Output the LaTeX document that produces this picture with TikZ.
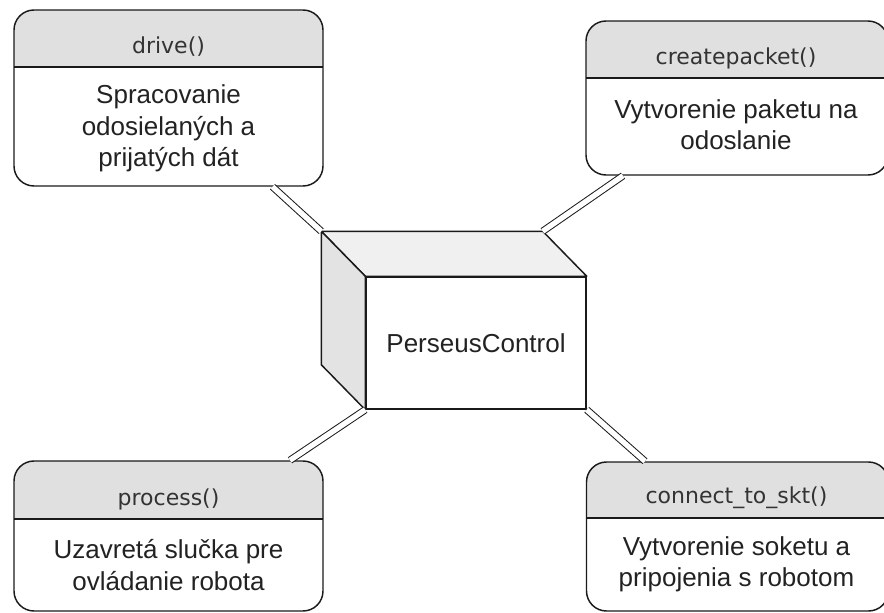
\documentclass[tikz,border=0pt]{standalone}
\usepackage{fontspec}
\setmainfont{Liberation Sans}
\newfontfamily\headfont{DejaVu Sans}
\definecolor{linecol}{HTML}{1A1A1A}
\definecolor{headfill}{HTML}{E0E0E0}
\definecolor{topfill}{HTML}{F0F0F0}
\definecolor{sidefill}{HTML}{E3E3E3}
\definecolor{headtext}{HTML}{333333}
\definecolor{bodytext}{HTML}{222222}
\begin{document}
\begin{tikzpicture}[x=0.75pt,y=-0.75pt,
  card/.style n args={3}{draw=linecol, line width=1.1pt, rounded corners=15pt,
    minimum width=#1*0.75pt, minimum height=#2*0.75pt, inner sep=0pt,
    path picture={
      \fill[headfill, sharp corners] (path picture bounding box.north west)
        rectangle ([yshift=-#3*0.75pt]path picture bounding box.north east);
      \draw[linecol, line width=1.1pt, sharp corners]
        ([yshift=-#3*0.75pt]path picture bounding box.north west)
        -- ([yshift=-#3*0.75pt]path picture bounding box.north east);
    }},
  headtxt/.style={text=headtext, font=\headfont\fontsize{16.5}{20}\selectfont, inner sep=0pt},
  bodytxt/.style={text=bodytext, align=center, font=\fontsize{19.5}{23.6}\selectfont, inner sep=0pt},
  front/.style={draw=linecol, line width=1.1pt, fill=white, minimum width=220*0.75pt,
    minimum height=132*0.75pt, inner sep=0pt, text=bodytext, font=\fontsize{19.5}{23.6}\selectfont},
  face/.style={draw=linecol, line width=1.1pt, line join=round},
  link/.style={draw=linecol, line width=0.75pt, double=white, double distance=4pt},
]
\useasboundingbox (0,0) rectangle (884,613);

% method cards
\node[card={309}{176}{57}] (drv) at (168.5,98) {};
\node[headtxt] (drvh) at (168.5,46.5) {drive()};
\node[bodytxt] (drvb) at (168.5,128.5) {Spracovanie\\odosielaných a\\prijatých dát};

\node[card={302}{154}{57}] (pkt) at (737,98) {};
\node[headtxt] (pkth) at (736,58) {createpacket()};
\node[bodytxt] (pktb) at (736,124.5) {Vytvorenie paketu na\\odoslanie};

\node[card={309}{150}{58}] (prc) at (168.5,536) {};
\node[headtxt] (prch) at (168.5,499) {process()};
\node[bodytxt] (prcb) at (168.5,565) {Uzavretá slučka pre\\ovládanie robota};

\node[card={302}{149}{56}] (skt) at (737.5,536.5) {};
\node[headtxt] (skth) at (736.5,498) {connect\_to\_skt()};
\node[bodytxt] (sktb) at (736.5,564.5) {Vytvorenie soketu a\\pripojenia s robotom};

% central component drawn as a box in perspective
\node[front] (cube) at (476,343) {PerseusControl};
\coordinate (btl) at ([shift={(-44,-45)}]cube.north west);
\coordinate (btr) at ([shift={(-44,-45)}]cube.north east);
\coordinate (bbl) at ([shift={(-44,-45)}]cube.south west);
\filldraw[face, fill=topfill] (cube.north west) -- (btl) -- (btr) -- (cube.north east) -- cycle;
\filldraw[face, fill=sidefill] (cube.north west) -- (btl) -- (bbl) -- (cube.south west) -- cycle;

% double-line links
\draw[link] (btl) -- ([shift={(104,0)}]drv.south);
\draw[link] (btr) -- ([shift={(-114,0)}]pkt.south);
\draw[link] (cube.south west) -- ([shift={(121.5,0)}]prc.north);
\draw[link] (cube.south east) -- ([shift={(-92.5,0)}]skt.north);
\end{tikzpicture}
\end{document}
